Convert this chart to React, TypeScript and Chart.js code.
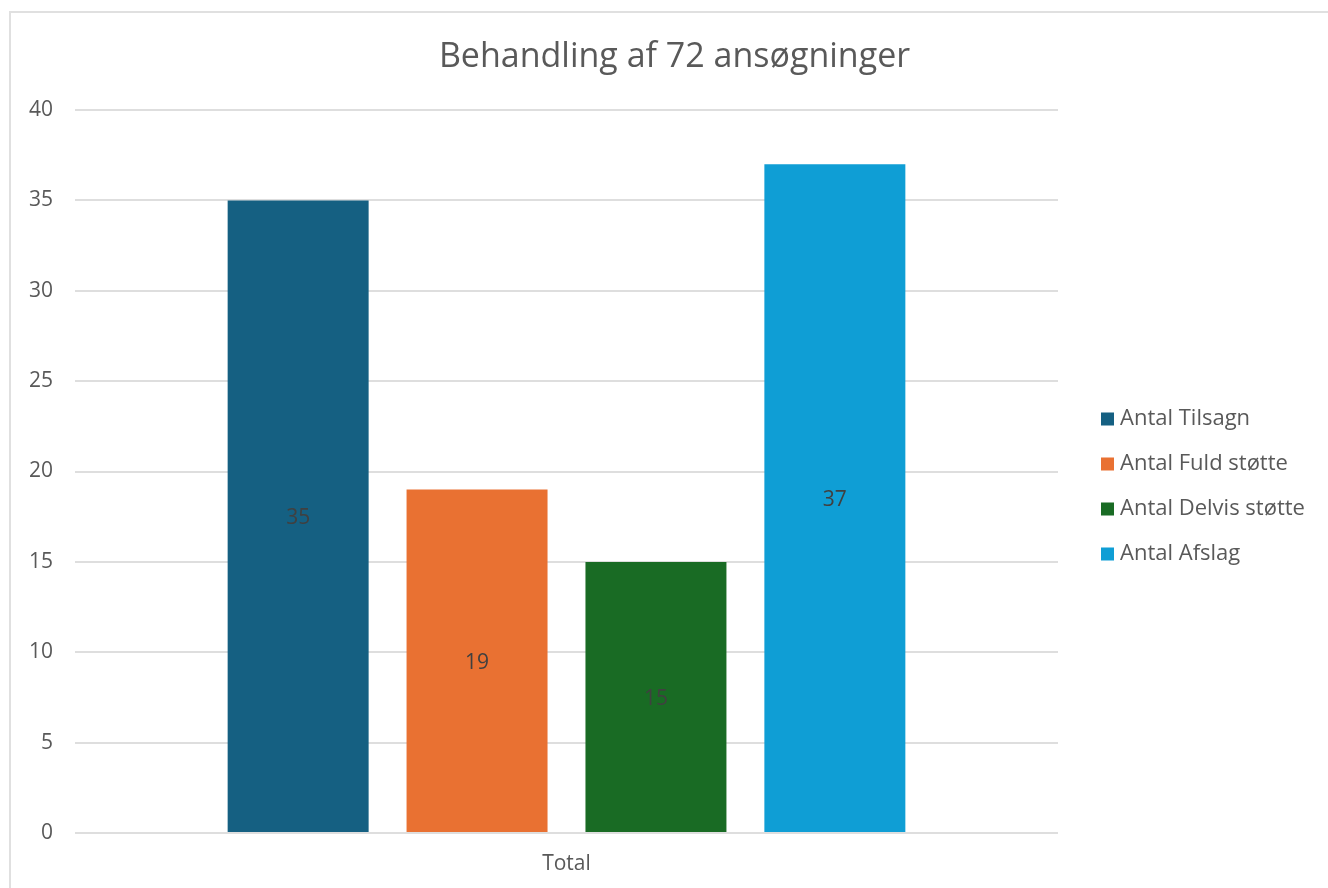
import React, { useEffect, useRef } from "react";
import { Chart, registerables } from "chart.js";

Chart.register(...registerables);

const title = "Behandling af 72 ansøgninger";
const categories = ["Total"];
const seriesNames = ["Antal Tilsagn", "Antal Fuld støtte", "Antal Delvis støtte", "Antal Afslag"];
const seriesValues = [35, 19, 15, 37];
const seriesColors = ["#156082", "#E97132", "#196B24", "#0F9ED5"];
const yTicks = { min: 0, max: 40, step: 5 };

const FONT = "'Open Sans', sans-serif";
const TEXT = "#595959";

const chartTitle = {
  id: "chartTitle",
  afterDraw(chart: any) {
    const ctx = chart.ctx;
    ctx.save();
    ctx.font = `34px ${FONT}`;
    ctx.fillStyle = TEXT;
    ctx.textAlign = "center";
    ctx.textBaseline = "alphabetic";
    ctx.fillText(title, chart.width / 2 + 5, 54);
    ctx.restore();
  },
};

const valueLabels = {
  id: "valueLabels",
  afterDatasetsDraw(chart: any) {
    const ctx = chart.ctx;
    ctx.save();
    ctx.font = `21px ${FONT}`;
    ctx.fillStyle = "#404040";
    ctx.textAlign = "center";
    ctx.textBaseline = "middle";
    chart.data.datasets.forEach((ds: any, i: number) => {
      const meta = chart.getDatasetMeta(i);
      meta.data.forEach((bar: any, j: number) => {
        const v = ds.data[j];
        ctx.fillText(String(v), bar.x, (bar.y + bar.base) / 2 + 2);
      });
    });
    ctx.restore();
  },
};

const sideLegend = {
  id: "sideLegend",
  afterDraw(chart: any) {
    const ctx = chart.ctx;
    const area = chart.chartArea;
    ctx.save();
    ctx.font = `22px ${FONT}`;
    ctx.textAlign = "left";
    ctx.textBaseline = "middle";
    const x0 = area.right + 43;
    const y0 = area.top + 309;
    chart.data.datasets.forEach((ds: any, i: number) => {
      const cy = y0 + i * 45;
      ctx.fillStyle = ds.backgroundColor;
      ctx.fillRect(x0, cy - 6.5, 13, 13);
      ctx.fillStyle = TEXT;
      ctx.fillText(ds.label, x0 + 19, cy);
    });
    ctx.restore();
  },
};

export default function App() {
  const ref = useRef<HTMLCanvasElement | null>(null);

  useEffect(() => {
    document.body.style.overflow = "hidden";
    const chart = new Chart(ref.current as HTMLCanvasElement, {
      type: "bar",
      data: {
        labels: categories,
        datasets: seriesNames.map((name, i) => ({
          label: name,
          data: [seriesValues[i]],
          backgroundColor: seriesColors[i],
          categoryPercentage: 0.728,
          barPercentage: 0.788,
        })),
      },
      options: {
        responsive: false,
        animation: false,
        layout: { padding: { left: 0, right: 270, top: 97, bottom: 0 } },
        plugins: {
          legend: { display: false },
          tooltip: { enabled: false },
          title: { display: false },
        },
        scales: {
          x: {
            grid: { display: false, drawTicks: false },
            border: { display: false },
            ticks: { color: TEXT, font: { family: FONT, size: 21 }, padding: 18 },
            afterFit(scale: any) {
              scale.height = 55;
            },
          },
          y: {
            min: yTicks.min,
            max: yTicks.max,
            grid: { color: "#dedede", lineWidth: 2, drawTicks: false },
            border: { display: false },
            ticks: {
              stepSize: yTicks.step,
              color: TEXT,
              font: { family: FONT, size: 21 },
              padding: 22,
            },
            afterFit(scale: any) {
              scale.width = 64;
            },
          },
        },
      },
      plugins: [valueLabels, sideLegend, chartTitle],
    });
    return () => chart.destroy();
  }, []);

  return (
    <div
      style={{
        position: "absolute",
        left: 9,
        top: 11,
        width: 1319,
        height: 877,
        borderTop: "2px solid #e0e0e0",
        borderLeft: "2px solid #e0e0e0",
        boxSizing: "border-box",
        background: "#fff",
      }}
    >
      <canvas ref={ref} width={1317} height={875} style={{ display: "block" }} />
    </div>
  );
}
